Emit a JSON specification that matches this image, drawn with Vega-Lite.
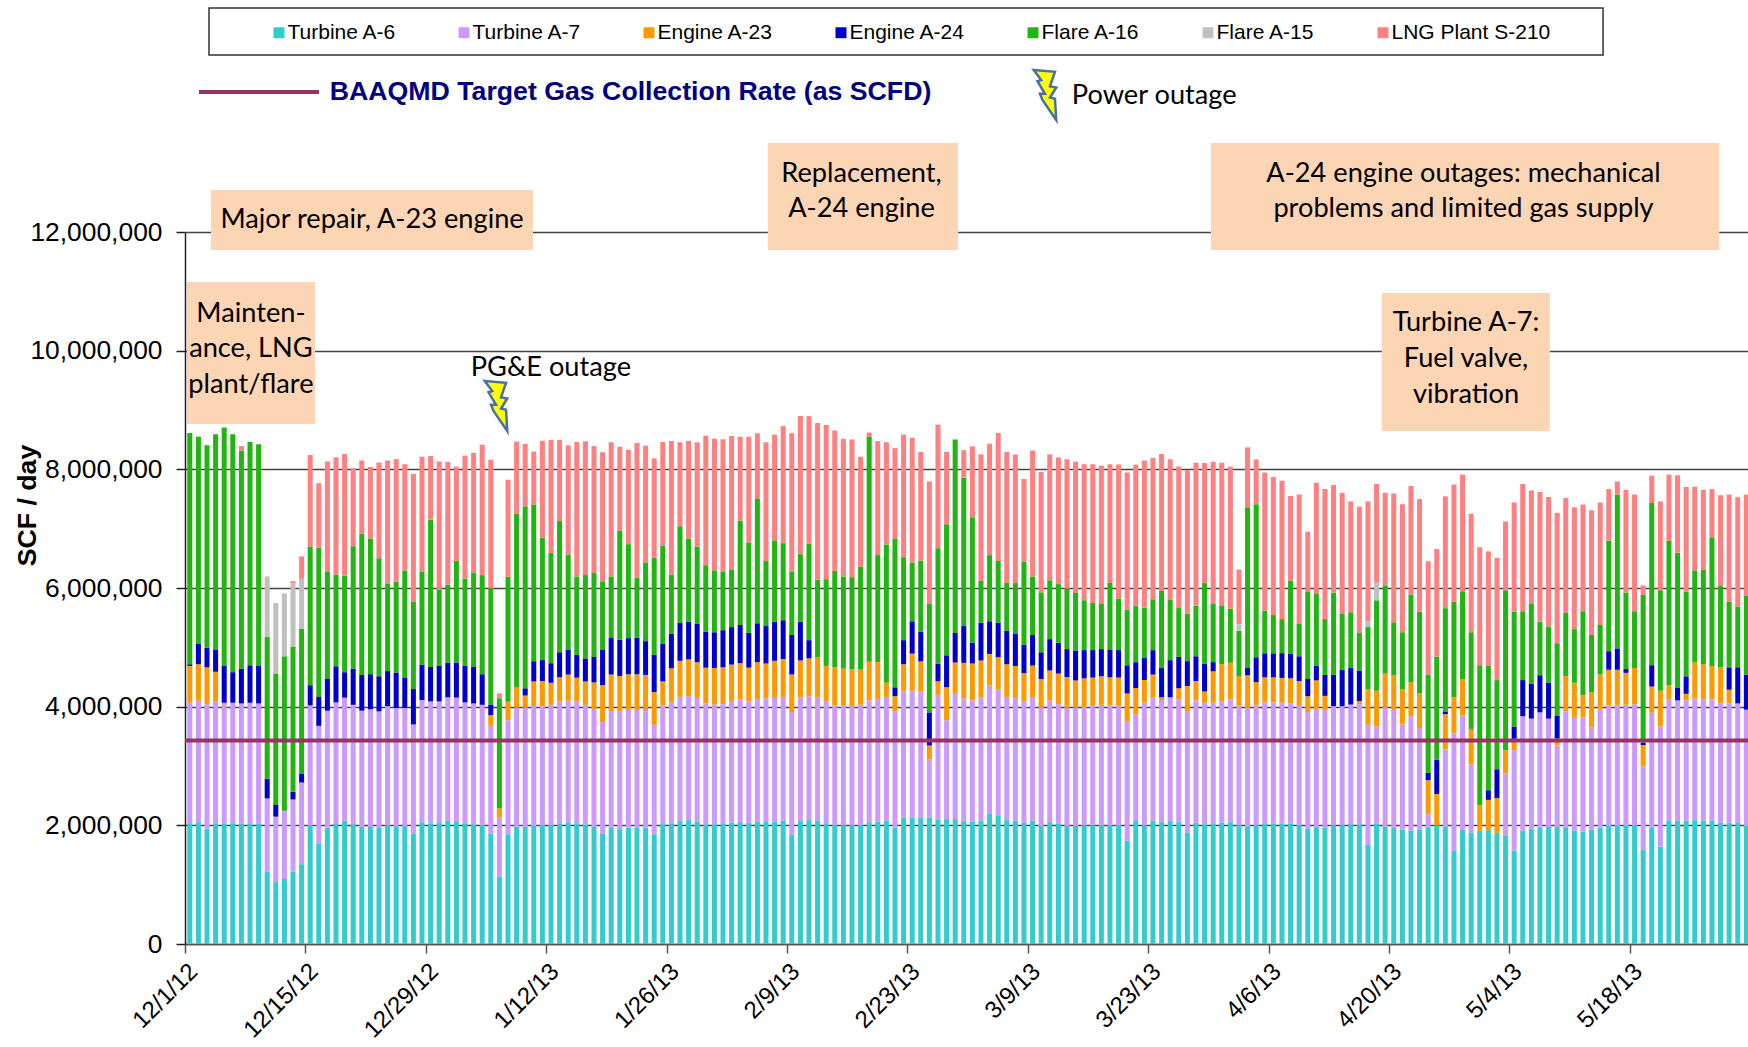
{"$schema":"https://vega.github.io/schema/vega-lite/v6.json","width":1563,"height":712,"autosize":{"type":"none"},"padding":{"left":185,"top":232,"right":0,"bottom":103},"background":"white","config":{"view":{"stroke":null}},
"resolve":{"axis":{"x":"independent","y":"independent"}},
"layer":[
{"data":{"values":[
{"d":"2012-12-01","a6":2036000,"a7":2030000,"e23":621000,"e24":29000,"f16":3898000},
{"d":"2012-12-02","a6":2053000,"a7":2047000,"e23":615000,"e24":342000,"f16":3492000},
{"d":"2012-12-03","a6":1943000,"a7":2094000,"e23":626000,"e24":331000,"f16":3410000},
{"d":"2012-12-04","a6":2036000,"a7":2059000,"e23":493000,"e24":365000,"f16":3637000},
{"d":"2012-12-05","a6":2024000,"a7":2013000,"e23":29000,"e24":621000,"f16":4019000},
{"d":"2012-12-06","a6":2036000,"a7":2030000,"e24":516000,"f16":4008000},
{"d":"2012-12-07","a6":2024000,"a7":2030000,"e24":586000,"f16":3677000,"s210":75000},
{"d":"2012-12-08","a6":2036000,"a7":2030000,"e24":632000,"f16":3764000},
{"d":"2012-12-09","a6":2024000,"a7":2030000,"e24":632000,"f16":3735000},
{"d":"2012-12-10","a6":1224000,"a7":1230000,"e24":331000,"f16":2395000,"g15":1015000},
{"d":"2012-12-11","a6":1044000,"a7":1102000,"e24":197000,"f16":2216000,"g15":1189000},
{"d":"2012-12-12","a6":1096000,"a7":1148000,"f16":2604000,"g15":1061000},
{"d":"2012-12-13","a6":1218000,"a7":1218000,"e24":128000,"f16":2448000,"g15":1067000,"s210":35000},
{"d":"2012-12-14","a6":1346000,"a7":1375000,"e24":145000,"f16":2448000,"g15":841000,"s210":377000},
{"d":"2012-12-15","a6":2007000,"a7":2013000,"e24":342000,"f16":2337000,"s210":1543000},
{"d":"2012-12-16","a6":1688000,"a7":1989000,"e24":487000,"f16":2517000,"s210":1085000},
{"d":"2012-12-17","a6":1960000,"a7":1972000,"e24":534000,"f16":1804000,"s210":1862000},
{"d":"2012-12-18","a6":2036000,"a7":2036000,"e24":609000,"f16":1543000,"s210":1978000},
{"d":"2012-12-19","a6":2076000,"a7":2076000,"e24":429000,"f16":1624000,"s210":2053000},
{"d":"2012-12-20","a6":2018000,"a7":2013000,"e24":609000,"f16":2065000,"s210":1311000},
{"d":"2012-12-21","a6":1972000,"a7":1960000,"e24":603000,"f16":2378000,"s210":1235000},
{"d":"2012-12-22","a6":1972000,"a7":1984000,"e24":592000,"f16":2285000,"s210":1206000},
{"d":"2012-12-23","a6":1955000,"a7":1966000,"e24":592000,"f16":1989000,"s210":1612000},
{"d":"2012-12-24","a6":2001000,"a7":2007000,"e24":592000,"f16":1467000,"s210":2082000},
{"d":"2012-12-25","a6":1984000,"a7":1995000,"e24":597000,"f16":1531000,"s210":2065000},
{"d":"2012-12-26","a6":1984000,"a7":1995000,"e24":505000,"f16":1810000,"s210":1792000},
{"d":"2012-12-27","a6":1856000,"a7":1844000,"e24":597000,"f16":1467000,"s210":2158000},
{"d":"2012-12-28","a6":2053000,"a7":2059000,"e24":597000,"f16":1560000,"s210":1943000},
{"d":"2012-12-29","a6":2036000,"a7":2053000,"e24":580000,"f16":2482000,"s210":1073000},
{"d":"2012-12-30","a6":2053000,"a7":2036000,"e24":597000,"f16":1282000,"s210":2163000},
{"d":"2012-12-31","a6":2076000,"a7":2082000,"e24":586000,"f16":1311000,"s210":2071000},
{"d":"2013-01-01","a6":2071000,"a7":2082000,"e24":592000,"f16":1711000,"s210":1589000},
{"d":"2013-01-02","a6":2036000,"a7":2036000,"e24":615000,"f16":1473000,"s210":2071000},
{"d":"2013-01-03","a6":2018000,"a7":2036000,"e24":615000,"f16":1583000,"s210":2024000},
{"d":"2013-01-04","a6":2007000,"a7":2024000,"e24":516000,"f16":1670000,"s210":2198000},
{"d":"2013-01-05","a6":1862000,"a7":1815000,"e23":180000,"e24":180000,"f16":1960000,"s210":2163000},
{"d":"2013-01-06","a6":1131000,"a7":998000,"e23":157000,"f16":1856000,"s210":81000},
{"d":"2013-01-07","a6":1850000,"a7":1920000,"e23":313000,"f16":2105000,"s210":1636000},
{"d":"2013-01-08","a6":1978000,"a7":2007000,"e23":348000,"f16":2923000,"s210":1212000},
{"d":"2013-01-09","a6":1978000,"a7":2007000,"e23":203000,"e24":122000,"f16":3068000,"s210":1050000},
{"d":"2013-01-10","a6":1989000,"a7":2024000,"e23":412000,"e24":342000,"f16":2639000,"s210":893000},
{"d":"2013-01-11","a6":2007000,"a7":2001000,"e23":423000,"e24":354000,"f16":2065000,"s210":1630000},
{"d":"2013-01-12","a6":2007000,"a7":2024000,"e23":371000,"e24":331000,"f16":1856000,"s210":1908000},
{"d":"2013-01-13","a6":2036000,"a7":2047000,"e23":412000,"e24":423000,"f16":2210000,"s210":1369000},
{"d":"2013-01-14","a6":2053000,"a7":2047000,"e23":441000,"e24":423000,"f16":1601000,"s210":1839000},
{"d":"2013-01-15","a6":2036000,"a7":2059000,"e23":394000,"e24":383000,"f16":1322000,"s210":2268000},
{"d":"2013-01-16","a6":2013000,"a7":2018000,"e23":394000,"e24":389000,"f16":1404000,"s210":2256000},
{"d":"2013-01-17","a6":1972000,"a7":1989000,"e23":447000,"e24":429000,"f16":1415000,"s210":2140000},
{"d":"2013-01-18","a6":1856000,"a7":1885000,"e23":621000,"e24":603000,"f16":1148000,"s210":2175000},
{"d":"2013-01-19","a6":1955000,"a7":1972000,"e23":615000,"e24":615000,"f16":1038000,"s210":2262000},
{"d":"2013-01-20","a6":1937000,"a7":1978000,"e23":603000,"e24":609000,"f16":1844000,"s210":1409000},
{"d":"2013-01-21","a6":1960000,"a7":1984000,"e23":603000,"e24":609000,"f16":1583000,"s210":1589000},
{"d":"2013-01-22","a6":1955000,"a7":1989000,"e23":603000,"e24":615000,"f16":1015000,"s210":2268000},
{"d":"2013-01-23","a6":1960000,"a7":1984000,"e23":592000,"e24":568000,"f16":1317000,"s210":1978000},
{"d":"2013-01-24","a6":1850000,"a7":1839000,"e23":557000,"e24":626000,"f16":1636000,"s210":1676000},
{"d":"2013-01-25","a6":2018000,"a7":2001000,"e23":406000,"e24":632000,"f16":1659000,"s210":1746000},
{"d":"2013-01-26","a6":2036000,"a7":2030000,"e23":580000,"e24":580000,"f16":1003000,"s210":2250000},
{"d":"2013-01-27","a6":2076000,"a7":2088000,"e23":609000,"e24":638000,"f16":1630000,"s210":1415000},
{"d":"2013-01-28","a6":2088000,"a7":2088000,"e23":621000,"e24":638000,"f16":1398000,"s210":1647000},
{"d":"2013-01-29","a6":2059000,"a7":2088000,"e23":603000,"e24":644000,"f16":1305000,"s210":1757000},
{"d":"2013-01-30","a6":2018000,"a7":2036000,"e23":603000,"e24":609000,"f16":1119000,"s210":2181000},
{"d":"2013-01-31","a6":2018000,"a7":2018000,"e23":615000,"e24":603000,"f16":1044000,"s210":2216000},
{"d":"2013-02-01","a6":2024000,"a7":2018000,"e23":621000,"e24":626000,"f16":980000,"s210":2239000},
{"d":"2013-02-02","a6":2047000,"a7":2047000,"e23":615000,"e24":632000,"f16":974000,"s210":2245000},
{"d":"2013-02-03","a6":2053000,"a7":2065000,"e23":615000,"e24":644000,"f16":1757000,"s210":1415000},
{"d":"2013-02-04","a6":2042000,"a7":2042000,"e23":574000,"e24":586000,"f16":1525000,"s210":1781000},
{"d":"2013-02-05","a6":2059000,"a7":2071000,"e23":621000,"e24":655000,"f16":2094000,"s210":1108000},
{"d":"2013-02-06","a6":2059000,"a7":2082000,"e23":586000,"e24":632000,"f16":1096000,"s210":2001000},
{"d":"2013-02-07","a6":2065000,"a7":2082000,"e23":626000,"e24":661000,"f16":1369000,"s210":1781000},
{"d":"2013-02-08","a6":2076000,"a7":2088000,"e23":638000,"e24":655000,"f16":1299000,"s210":1972000},
{"d":"2013-02-09","a6":1839000,"a7":2071000,"e23":632000,"e24":667000,"f16":1061000,"s210":2337000},
{"d":"2013-02-10","a6":2071000,"a7":2082000,"e23":626000,"e24":655000,"f16":1137000,"s210":2326000},
{"d":"2013-02-11","a6":2088000,"a7":2088000,"e23":638000,"e24":307000,"f16":1624000,"s210":2152000},
{"d":"2013-02-12","a6":2076000,"a7":2088000,"e23":673000,"f16":1305000,"s210":2639000},
{"d":"2013-02-13","a6":2036000,"a7":2059000,"e23":592000,"f16":1462000,"s210":2598000},
{"d":"2013-02-14","a6":2007000,"a7":2018000,"e23":638000,"f16":1624000,"s210":2366000},
{"d":"2013-02-15","a6":2001000,"a7":2013000,"e23":626000,"f16":1554000,"s210":2320000},
{"d":"2013-02-16","a6":1995000,"a7":2013000,"e23":621000,"f16":1554000,"s210":2320000},
{"d":"2013-02-17","a6":2007000,"a7":2024000,"e23":592000,"f16":1734000,"s210":1856000},
{"d":"2013-02-18","a6":2053000,"a7":2053000,"e23":650000,"f16":3799000,"s210":64000},
{"d":"2013-02-19","a6":2065000,"a7":2065000,"e23":621000,"f16":1804000,"s210":1920000},
{"d":"2013-02-20","a6":2076000,"a7":2088000,"e23":238000,"f16":2332000,"s210":1723000},
{"d":"2013-02-21","a6":1960000,"a7":1955000,"e23":261000,"e24":151000,"f16":2506000,"s210":1525000},
{"d":"2013-02-22","a6":2134000,"a7":2123000,"e23":458000,"e24":406000,"f16":1398000,"s210":2065000},
{"d":"2013-02-23","a6":2134000,"a7":2134000,"e23":626000,"e24":545000,"f16":992000,"s210":2100000},
{"d":"2013-02-24","a6":2123000,"a7":2129000,"e23":510000,"e24":505000,"f16":1195000,"s210":1833000},
{"d":"2013-02-25","a6":2134000,"a7":974000,"e23":238000,"e24":557000,"f16":1827000,"s210":2065000},
{"d":"2013-02-26","a6":2100000,"a7":2100000,"e23":226000,"e24":302000,"f16":1943000,"s210":2082000},
{"d":"2013-02-27","a6":2105000,"a7":1665000,"e23":557000,"e24":539000,"f16":2210000,"s210":1218000},
{"d":"2013-02-28","a6":2105000,"a7":2111000,"e23":528000,"e24":499000,"f16":3260000},
{"d":"2013-03-01","a6":2076000,"a7":2065000,"e23":597000,"e24":621000,"f16":2500000,"s210":464000},
{"d":"2013-03-02","a6":2059000,"a7":2047000,"e23":621000,"e24":354000,"f16":2111000,"s210":1195000},
{"d":"2013-03-03","a6":2076000,"a7":2076000,"e23":626000,"e24":638000,"f16":702000,"s210":2134000},
{"d":"2013-03-04","a6":2192000,"a7":2163000,"e23":534000,"e24":551000,"f16":1114000,"s210":1879000},
{"d":"2013-03-05","a6":2158000,"a7":2140000,"e23":534000,"e24":586000,"f16":1038000,"s210":2158000},
{"d":"2013-03-06","a6":2088000,"a7":2076000,"e23":551000,"e24":563000,"f16":806000,"s210":2210000},
{"d":"2013-03-07","a6":2076000,"a7":2065000,"e23":545000,"e24":539000,"f16":858000,"s210":2169000},
{"d":"2013-03-08","a6":2042000,"a7":2053000,"e23":470000,"e24":476000,"f16":1398000,"s210":1398000},
{"d":"2013-03-09","a6":2076000,"a7":2088000,"e23":528000,"e24":516000,"f16":986000,"s210":2123000},
{"d":"2013-03-10","a6":1989000,"a7":1989000,"e23":487000,"e24":452000,"f16":1009000,"s210":2030000},
{"d":"2013-03-11","a6":2053000,"a7":2047000,"e23":510000,"e24":528000,"f16":992000,"s210":2123000},
{"d":"2013-03-12","a6":2024000,"a7":2018000,"e23":516000,"e24":522000,"f16":986000,"s210":2134000},
{"d":"2013-03-13","a6":1989000,"a7":2001000,"e23":510000,"e24":470000,"f16":1021000,"s210":2181000},
{"d":"2013-03-14","a6":1989000,"a7":1995000,"e23":458000,"e24":505000,"f16":969000,"s210":2210000},
{"d":"2013-03-15","a6":2001000,"a7":1995000,"e23":481000,"e24":476000,"f16":841000,"s210":2291000},
{"d":"2013-03-16","a6":2001000,"a7":2013000,"e23":476000,"e24":464000,"f16":795000,"s210":2337000},
{"d":"2013-03-17","a6":2007000,"a7":2024000,"e23":481000,"e24":458000,"f16":760000,"s210":2332000},
{"d":"2013-03-18","a6":2007000,"a7":2018000,"e23":470000,"e24":470000,"f16":1119000,"s210":2001000},
{"d":"2013-03-19","a6":2007000,"a7":2007000,"e23":476000,"e24":464000,"f16":870000,"s210":2256000},
{"d":"2013-03-20","a6":1740000,"a7":2018000,"e23":464000,"e24":476000,"f16":940000,"s210":2308000},
{"d":"2013-03-21","a6":2076000,"a7":1798000,"e23":441000,"e24":435000,"f16":945000,"s210":2384000},
{"d":"2013-03-22","a6":2001000,"a7":2065000,"e23":383000,"e24":371000,"f16":847000,"s210":2482000},
{"d":"2013-03-23","a6":2076000,"a7":2076000,"e23":389000,"e24":412000,"f16":858000,"s210":2378000},
{"d":"2013-03-24","a6":2053000,"a7":2059000,"e23":46000,"e24":493000,"f16":1299000,"s210":2308000},
{"d":"2013-03-25","a6":2076000,"a7":2082000,"e24":626000,"f16":1015000,"s210":2372000},
{"d":"2013-03-26","a6":2053000,"a7":2071000,"e23":186000,"e24":528000,"f16":824000,"s210":2384000},
{"d":"2013-03-27","a6":1873000,"a7":2053000,"e23":423000,"e24":418000,"f16":800000,"s210":2419000},
{"d":"2013-03-28","a6":2042000,"a7":2065000,"e23":325000,"e24":418000,"f16":853000,"s210":2407000},
{"d":"2013-03-29","a6":2018000,"a7":2047000,"e23":191000,"e24":464000,"f16":1363000,"s210":2024000},
{"d":"2013-03-30","a6":2024000,"a7":2042000,"e23":528000,"e24":157000,"f16":980000,"s210":2395000},
{"d":"2013-03-31","a6":2042000,"a7":2053000,"e23":621000,"f16":992000,"s210":2401000},
{"d":"2013-04-01","a6":2053000,"a7":2071000,"e23":615000,"f16":911000,"s210":2395000},
{"d":"2013-04-02","a6":2001000,"a7":2018000,"e23":499000,"f16":760000,"g15":110000,"s210":922000},
{"d":"2013-04-03","a6":1984000,"a7":1995000,"e23":551000,"e24":122000,"f16":2709000,"s210":1009000},
{"d":"2013-04-04","a6":2007000,"a7":2024000,"e23":383000,"e24":418000,"f16":2581000,"s210":754000},
{"d":"2013-04-05","a6":2024000,"a7":2047000,"e23":423000,"e24":406000,"f16":719000,"s210":2326000},
{"d":"2013-04-06","a6":2024000,"a7":2047000,"e23":423000,"e24":406000,"f16":644000,"s210":2326000},
{"d":"2013-04-07","a6":2024000,"a7":2042000,"e23":418000,"e24":418000,"f16":574000,"s210":2332000},
{"d":"2013-04-08","a6":2024000,"a7":2030000,"e23":423000,"e24":412000,"f16":1235000,"s210":1427000},
{"d":"2013-04-09","a6":2007000,"a7":2007000,"e23":418000,"e24":418000,"f16":545000,"s210":2181000},
{"d":"2013-04-10","a6":1949000,"a7":1960000,"e23":267000,"e24":290000,"f16":1467000,"s210":1015000},
{"d":"2013-04-11","a6":1978000,"a7":1989000,"e23":476000,"e24":244000,"f16":1224000,"s210":1862000},
{"d":"2013-04-12","a6":1966000,"a7":1978000,"e23":238000,"e24":354000,"f16":940000,"s210":2192000},
{"d":"2013-04-13","a6":2001000,"a7":2007000,"e24":528000,"f16":1386000,"s210":1815000},
{"d":"2013-04-14","a6":2001000,"a7":2007000,"e24":609000,"f16":945000,"s210":2042000},
{"d":"2013-04-15","a6":2018000,"a7":2018000,"e24":615000,"f16":940000,"s210":1868000},
{"d":"2013-04-16","a6":2018000,"a7":2018000,"e23":58000,"e24":516000,"f16":632000,"s210":2129000},
{"d":"2013-04-17","a6":1670000,"a7":2024000,"e23":597000,"f16":1050000,"g15":104000,"s210":2013000},
{"d":"2013-04-18","a6":2024000,"a7":1641000,"e23":603000,"f16":1525000,"g15":296000,"s210":1665000},
{"d":"2013-04-19","a6":1978000,"a7":2001000,"e23":580000,"f16":1485000,"s210":1560000},
{"d":"2013-04-20","a6":1955000,"a7":1989000,"e23":586000,"f16":893000,"s210":2169000},
{"d":"2013-04-21","a6":1931000,"a7":1769000,"e23":592000,"f16":963000,"s210":2158000},
{"d":"2013-04-22","a6":1908000,"a7":1931000,"e23":574000,"f16":1479000,"s210":1827000},
{"d":"2013-04-23","a6":1931000,"a7":1711000,"e23":580000,"f16":1380000,"s210":1897000},
{"d":"2013-04-24","a6":1955000,"a7":232000,"e23":574000,"e24":122000,"f16":1659000,"s210":1908000},
{"d":"2013-04-25","a6":2001000,"e23":528000,"e24":580000,"f16":1734000,"s210":1815000},
{"d":"2013-04-26","a6":1978000,"a7":1299000,"e23":597000,"e24":46000,"f16":1740000,"s210":1885000},
{"d":"2013-04-27","a6":1566000,"a7":1984000,"e23":609000,"f16":1607000,"s210":1978000},
{"d":"2013-04-28","a6":1920000,"a7":1931000,"e23":615000,"f16":1479000,"s210":1966000},
{"d":"2013-04-29","a6":1873000,"a7":1154000,"e23":592000,"e24":12000,"f16":1624000,"s210":1995000},
{"d":"2013-04-30","a6":1908000,"e23":429000,"f16":2361000,"s210":1989000},
{"d":"2013-05-01","a6":1920000,"e23":510000,"e24":162000,"f16":2094000,"s210":1931000},
{"d":"2013-05-02","a6":1873000,"e23":586000,"e24":487000,"f16":1502000,"s210":2059000},
{"d":"2013-05-03","a6":1821000,"a7":1050000,"e23":394000,"f16":2697000,"s210":1160000},
{"d":"2013-05-04","a6":1572000,"a7":1694000,"e23":191000,"e24":209000,"f16":1937000,"s210":1839000},
{"d":"2013-05-05","a6":1908000,"a7":1931000,"e24":609000,"f16":1160000,"s210":2146000},
{"d":"2013-05-06","a6":1937000,"a7":1862000,"e24":592000,"f16":1351000,"s210":1902000},
{"d":"2013-05-07","a6":1955000,"a7":1949000,"e24":626000,"f16":905000,"s210":2181000},
{"d":"2013-05-08","a6":1972000,"a7":1827000,"e24":609000,"f16":945000,"s210":2181000},
{"d":"2013-05-09","a6":1972000,"a7":1375000,"e23":116000,"e24":389000,"f16":1218000,"s210":2192000},
{"d":"2013-05-10","a6":1955000,"a7":1966000,"e23":597000,"f16":1061000,"s210":1937000},
{"d":"2013-05-11","a6":1908000,"a7":1920000,"e23":574000,"f16":905000,"s210":2053000},
{"d":"2013-05-12","a6":1897000,"a7":1920000,"e23":377000,"f16":1415000,"s210":1798000},
{"d":"2013-05-13","a6":1920000,"a7":1734000,"e23":586000,"f16":969000,"s210":2100000},
{"d":"2013-05-14","a6":1960000,"a7":1989000,"e23":592000,"f16":835000,"s210":2065000},
{"d":"2013-05-15","a6":1989000,"a7":2030000,"e23":603000,"e24":313000,"f16":1862000,"s210":870000},
{"d":"2013-05-16","a6":1989000,"a7":2030000,"e23":603000,"e24":360000,"f16":2587000,"s210":226000},
{"d":"2013-05-17","a6":1989000,"a7":2042000,"e23":539000,"e24":64000,"f16":1288000,"s210":1734000},
{"d":"2013-05-18","a6":2007000,"a7":2030000,"e23":615000,"f16":957000,"s210":1966000},
{"d":"2013-05-19","a6":1583000,"a7":1409000,"e23":360000,"e24":41000,"f16":2488000,"s210":162000},
{"d":"2013-05-20","a6":1955000,"a7":1943000,"e23":441000,"e24":360000,"f16":2732000,"s210":464000},
{"d":"2013-05-21","a6":1641000,"a7":2024000,"e23":603000,"f16":1694000,"s210":1496000},
{"d":"2013-05-22","a6":2082000,"a7":2042000,"e23":232000,"f16":2436000,"s210":1119000},
{"d":"2013-05-23","a6":2076000,"a7":2030000,"e24":209000,"f16":2279000,"s210":1305000},
{"d":"2013-05-24","a6":2076000,"a7":2030000,"e23":110000,"e24":296000,"f16":1427000,"s210":1763000},
{"d":"2013-05-25","a6":2088000,"a7":2047000,"e23":609000,"f16":1554000,"s210":1409000},
{"d":"2013-05-26","a6":2076000,"a7":2042000,"e23":597000,"f16":1595000,"s210":1346000},
{"d":"2013-05-27","a6":2076000,"a7":2047000,"e23":563000,"f16":2169000,"s210":812000},
{"d":"2013-05-28","a6":2042000,"a7":2013000,"e23":609000,"f16":1369000,"s210":1531000},
{"d":"2013-05-29","a6":2047000,"a7":2007000,"e23":232000,"e24":377000,"f16":1102000,"s210":1810000},
{"d":"2013-05-30","a6":2042000,"a7":2013000,"e24":609000,"f16":1027000,"s210":1839000},
{"d":"2013-05-31","a6":1989000,"a7":1960000,"e24":592000,"f16":1334000,"s210":1699000}
]},
"transform":[{"fold":["a6","a7","e23","e24","f16","g15","s210"],"as":["series","scf"]},{"filter":"isValid(datum.scf)"}],
"mark":{"type":"bar","width":{"band":0.7}},
"encoding":{
"x":{"field":"d","type":"temporal","timeUnit":"utcyearmonthdate","title":null,"scale":{"type":"utc","domain":[1354320000000,1370023200000]},
"axis":{"values":[1354320000000,1355529600000,1356739200000,1357948800000,1359158400000,1360368000000,1361577600000,1362787200000,1363996800000,1365206400000,1366416000000,1367625600000,1368835200000],"labelExpr":"utcFormat(datum.value,'%-m/%-d/%y')","labelAngle":-45,"labelAlign":"right","labelBaseline":"top","labelFont":"Liberation Sans","labelFontSize":24,"labelColor":"#000","labelPadding":6,"labelOverlap":false,"labelBound":false,"labelFlush":false,"tickSize":9,"tickColor":"#555","tickWidth":1.5,"domainColor":"#555","domainWidth":1.5,"grid":false}},
"y":{"field":"scf","type":"quantitative","stack":"zero","title":"SCF / day","scale":{"domain":[0,12000000],"nice":false},
"axis":{"values":[0,2000000,4000000,6000000,8000000,10000000,12000000],"format":",d","labelFont":"Liberation Sans","labelFontSize":26.4,"labelColor":"#000","labelPadding":14,"tickSize":9,"tickColor":"#222","tickWidth":1.5,"domainColor":"#222","domainWidth":1.5,"grid":true,"gridColor":"#444","gridWidth":1.5,"titleFont":"Liberation Sans","titleFontSize":26.7,"titleFontWeight":"bold","titleColor":"#000","titleX":-158,"titleY":273,"titleAngle":-90,"titleAlign":"center","titleBaseline":"middle"}},
"color":{"field":"series","type":"nominal","scale":{"domain":["a6","a7","e23","e24","f16","g15","s210"],"range":["#33CCCC","#CC99FF","#FF9900","#0000CC","#22B512","#C0C0C0","#FF8080"]},
"legend":{"orient":"none","legendX":83.5,"legendY":-210,"direction":"horizontal","columns":7,"title":null,"symbolType":"square","symbolSize":120,"symbolStrokeWidth":0,"labelFont":"Liberation Sans","labelFontSize":21,"labelColor":"#000","labelOffset":-2,"columnPadding":57,"padding":0,"labelExpr":"{'a6':'Turbine A-6','a7':'Turbine A-7','e23':'Engine A-23','e24':'Engine A-24','f16':'Flare A-16','g15':'Flare A-15','s210':'LNG Plant S-210'}[datum.label]"}},
"order":{"field":"series","type":"nominal","sort":"ascending"}}},
{"data":{"values":[{"target":3430000}]},"mark":{"type":"rule","color":"#953566","strokeWidth":4},"encoding":{"y":{"field":"target","type":"quantitative","axis":null}}},
{"data":{"values":[
{"x1":"2012-12-04T00:30:00Z","x2":"2013-01-10T11:00:00Z","y1":12708000,"y2":11697000},
{"x1":"2013-02-06T18:30:00Z","x2":"2013-02-28T21:30:00Z","y1":13500000,"y2":11697000},
{"x1":"2013-03-30T07:00:00Z","x2":"2013-05-28T09:30:00Z","y1":13500000,"y2":11697000},
{"x1":"2012-12-01T05:30:00Z","x2":"2012-12-16T03:00:00Z","y1":11157000,"y2":8764000},
{"x1":"2013-04-19T04:00:00Z","x2":"2013-05-08T17:00:00Z","y1":10972000,"y2":8646000}
]},"mark":{"type":"rect","fill":"#FCD5B5"},"encoding":{"x":{"field":"x1","type":"temporal","axis":null},"x2":{"field":"x2"},"y":{"field":"y1","type":"quantitative","axis":null},"y2":{"field":"y2"}}},
{"data":{"values":[
{"t":"Major repair, A-23 engine","x":"2012-12-22T18:00:00Z","y":12200000},
{"t":"Replacement,","x":"2013-02-17T16:00:00Z","y":12975000},
{"t":"A-24 engine","x":"2013-02-17T16:00:00Z","y":12385000},
{"t":"A-24 engine outages: mechanical","x":"2013-04-28T16:00:00Z","y":12975000},
{"t":"problems and limited gas supply","x":"2013-04-28T16:00:00Z","y":12385000},
{"t":"Mainten-","x":"2012-12-08T16:00:00Z","y":10615000},
{"t":"ance,  LNG","x":"2012-12-08T16:00:00Z","y":10025000},
{"t":"plant/flare","x":"2012-12-08T16:00:00Z","y":9418000},
{"t":"Turbine A-7:","x":"2013-04-28T23:00:00Z","y":10463000},
{"t":"Fuel valve,","x":"2013-04-28T23:00:00Z","y":9856000},
{"t":"vibration","x":"2013-04-28T23:00:00Z","y":9250000},
{"t":"PG&E outage","x":"2013-01-12T13:00:00Z","y":9705000}
]},"mark":{"type":"text","font":"Lato","fontSize":27.2,"color":"#000","align":"center","baseline":"middle"},"encoding":{"x":{"field":"x","type":"temporal","axis":null},"y":{"field":"y","type":"quantitative","axis":null},"text":{"field":"t"}}},
{"data":{"values":[{"x1":"2012-12-02T15:00:00Z","x2":"2012-12-16T14:00:00Z","y":14360000}]},"mark":{"type":"rule","color":"#953566","strokeWidth":4},"encoding":{"x":{"field":"x1","type":"temporal","axis":null},"x2":{"field":"x2"},"y":{"field":"y","type":"quantitative","axis":null}}},
{"data":{"values":[{"t":"BAAQMD Target Gas Collection Rate (as SCFD)","x":"2012-12-17T20:00:00Z","y":14360000}]},"mark":{"type":"text","font":"Liberation Sans","fontSize":26.7,"fontWeight":"bold","color":"#000080","align":"left","baseline":"middle"},"encoding":{"x":{"field":"x","type":"temporal","axis":null},"y":{"field":"y","type":"quantitative","axis":null},"text":{"field":"t"}}},
{"data":{"values":[{"t":"Power outage","x":"2013-03-14T03:00:00Z","y":14290000}]},"mark":{"type":"text","font":"Lato","fontSize":27.2,"color":"#000","align":"left","baseline":"middle"},"encoding":{"x":{"field":"x","type":"temporal","axis":null},"y":{"field":"y","type":"quantitative","axis":null},"text":{"field":"t"}}},
{"data":{"values":[{"x":"2013-03-11T00:00:00Z","y":14309000},{"x":"2013-01-06T04:00:00Z","y":9067000}]},"mark":{"type":"point","filled":true,"fill":"#FFFF00","stroke":"#4A6FA5","strokeWidth":2.5,"opacity":1,"size":2500,"shape":"M-0.45 -1 L0.4 -0.93 L0.2 -0.35 L0.45 -0.3 L0.2 0.1 L0.4 0.15 L0.45 1 L-0.1 0.2 L-0.2 -0.05 L0 -0.05 L-0.3 -0.55 L-0.15 -0.6 Z"},"encoding":{"x":{"field":"x","type":"temporal","axis":null},"y":{"field":"y","type":"quantitative","axis":null}}},
{"data":{"values":[{"x1":"2012-12-03T19:00:00Z","x2":"2013-05-14T21:30:00Z","y1":15775000,"y2":14983000}]},"mark":{"type":"rect","fill":null,"stroke":"#333","strokeWidth":1.5},"encoding":{"x":{"field":"x1","type":"temporal","axis":null},"x2":{"field":"x2"},"y":{"field":"y1","type":"quantitative","axis":null},"y2":{"field":"y2"}}}
]}
